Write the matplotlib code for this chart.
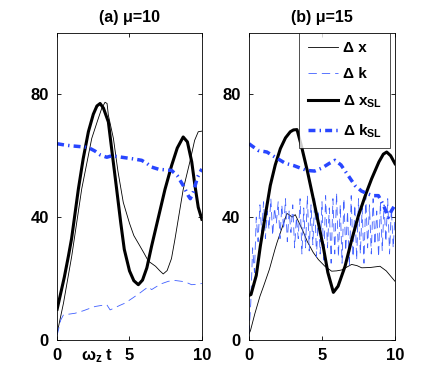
import numpy as np
import matplotlib
matplotlib.use("Agg")
import matplotlib.pyplot as plt

plt.rcParams['font.family'] = ['Liberation Sans', 'DejaVu Sans']
plt.rcParams['font.weight'] = 'bold'
plt.rcParams['mathtext.fontset'] = 'custom'
plt.rcParams['mathtext.rm'] = 'Liberation Sans:bold'
plt.rcParams['mathtext.it'] = 'Liberation Sans:bold'
plt.rcParams['mathtext.bf'] = 'Liberation Sans:bold'

BLUE = '#2846ff'
LIGHTBLUE = '#3f5fff'

# panel (a) mu=10
t_dx_a = [0, 0.44, 1.01, 1.7, 2.39, 2.8, 3.08, 3.31, 3.45, 3.54, 3.89, 4.2, 4.57, 5.0, 5.3, 5.72,
          6.0, 6.3, 6.8, 7.1, 7.33, 7.6, 7.9, 8.14, 8.71, 9.17, 9.5, 9.75, 10]
dx_a = [2.2, 12, 27.3, 49.2, 65.6, 71.5, 75.4, 77.4, 77, 73.2, 65.6, 55, 44.8, 38, 34, 30.6,
        28.3, 25.7, 24, 22.5, 21.5, 22.6, 26.5, 32.8, 49, 58, 65, 67.8, 68]

t_dk_a = [0, 0.05, 0.25, 0.44, 0.8, 1.24, 1.8, 2.2, 2.62, 3.0, 3.43, 3.66, 4.0, 4.3, 4.69, 5.2,
          5.72, 6.0, 6.3, 6.53, 6.8, 7.2, 7.68, 8.1, 8.6, 9.0, 9.29, 9.6, 10]
dk_a = [1.5, 2.5, 6.5, 8.2, 8.4, 8.7, 9.5, 10.2, 10.9, 11.2, 11.5, 9.8, 10.5, 11.2, 12, 13.6,
        15.3, 16.3, 17.3, 16.4, 17.2, 18.3, 19.1, 19.4, 19.1, 18.6, 18, 18.1, 18.4]

t_dxsl_a = [0, 0.5, 0.78, 1.0, 1.47, 1.8, 2.16, 2.5, 2.75, 2.97, 3.2, 3.54, 3.8, 4.11, 4.4, 4.64,
            5.0, 5.3, 5.61, 5.9, 6.2, 6.53, 7.0, 7.45, 7.91, 8.3, 8.71, 9.0, 9.3, 9.5, 9.75, 10]
dxsl_a = [10, 20.5, 27.3, 33, 49.2, 59, 67.8, 73.5, 76.2, 77, 75.5, 71, 61, 49.2, 38, 29.5,
          22.5, 19.3, 18, 19.5, 23.5, 30.6, 40, 49, 56.8, 62.5, 66.1, 64.5, 58, 51, 43.2, 39.3]

t_dksl_a = [0, 0.5, 1.0, 1.5, 1.93, 2.3, 2.62, 3.0, 3.43, 3.8, 4.46, 5.2, 5.84, 6.2, 6.53, 7.0,
            7.45, 7.91, 8.3, 8.71, 9.06, 9.2, 9.4, 9.7, 10]
dksl_a = [63.9, 63.5, 63.2, 63, 62.8, 62.3, 61.5, 60.2, 59.5, 60, 59.5, 59, 58.5, 57.5, 56.3, 55.6,
          55.4, 55.2, 53.5, 50.3, 47, 46, 48, 53, 55.7]

# panel (b) mu=15
t_dx_b = [0, 0.1, 0.4, 0.75, 1.0, 1.4, 1.78, 1.92, 2.3, 2.6, 2.8, 2.95, 3.17, 3.4, 3.74, 4.0,
          4.4, 4.75, 5.2, 5.66, 6.0, 6.35, 7.03, 7.4, 7.72, 8.3, 8.97, 9.4, 10]
dx_b = [2, 3, 8.5, 14.2, 17.5, 23, 29.5, 31.7, 37, 41.2, 40.6, 40, 40.8, 38.5, 35, 32,
        28.5, 26.2, 24, 22.4, 22.5, 22.8, 24.6, 24.2, 23.5, 23.6, 24, 22.5, 19.1]

t_dk_b = np.arange(0, 10.01, 0.125)
dk_b = [2, 12, 30, 22, 40, 32, 44, 35, 45, 33, 42, 36, 46, 34, 43, 38, 45, 33, 44, 36,
        46, 32, 42, 35, 44, 30, 40, 33, 46, 28, 43, 30, 47, 29, 44, 31, 46, 27, 42, 28,
        45, 26, 47, 30, 43, 25, 46, 28, 48, 27, 44, 25, 46, 29, 42, 24, 47, 27, 44, 26,
        46, 28, 43, 25, 47, 30, 44, 28, 46, 31, 42, 27, 45, 29, 44, 32, 46, 28, 43, 30, 40]

t_dxsl_b = [0, 0.14, 0.5, 0.78, 1.1, 1.46, 1.8, 2.15, 2.5, 2.83, 3.05, 3.29, 3.6, 4.0, 4.45, 4.8,
            5.1, 5.4, 5.78, 6.1, 6.58, 7.0, 7.49, 8.0, 8.4, 8.9, 9.2, 9.43, 9.7, 10]
dxsl_b = [14.5, 14.8, 21, 30.6, 40, 50.3, 57, 62.3, 65.8, 67.8, 68.4, 68.5, 63, 55, 45, 37,
          30, 22, 15.5, 17.5, 24, 32, 40.4, 47.5, 52.5, 58, 60.5, 61.2, 60, 57.4]

t_dksl_b = [0, 0.64, 1.23, 1.8, 2.15, 2.5, 3.06, 3.5, 3.97, 4.5, 5.0, 5.5, 5.89, 6.3, 6.8, 7.26,
            7.7, 8.17, 8.5, 8.86, 9.2, 9.54, 9.75, 10]
dksl_b = [63.9, 61.7, 61.2, 59.5, 58.5, 57.5, 56.8, 56, 55.2, 55, 56, 57.5, 58.5, 57, 53.5, 50.3,
          48.5, 47.5, 47, 47, 44, 39.9, 42, 44]

titles = ['(a) \u03bc=10', '(b) \u03bc=15']
xticks = [0, 5, 10]
yticks = [0, 40, 80]

fig = plt.figure(figsize=(4.36, 3.82), dpi=100)
ax1 = fig.add_axes([0.131, 0.110, 0.332, 0.804])
ax2 = fig.add_axes([0.571, 0.110, 0.335, 0.804])

panels = [
    (ax1, t_dx_a, dx_a, t_dk_a, dk_a, t_dxsl_a, dxsl_a, t_dksl_a, dksl_a),
    (ax2, t_dx_b, dx_b, t_dk_b, dk_b, t_dxsl_b, dxsl_b, t_dksl_b, dksl_b),
]

for i, (ax, tx, dx, tk, dk, txs, dxs, tks, dks) in enumerate(panels):
    ax.plot(tx, dx, color='k', lw=0.6, label='\u0394 x')
    ax.plot(tk, dk, color=LIGHTBLUE, lw=0.6, dashes=(10, 6), label='\u0394 k')
    ax.plot(txs, dxs, color='k', lw=2.2, label='\u0394 $x_{SL}$')
    ax.plot(tks, dks, color=BLUE, lw=2.5, dashes=(2.0, 1.2, 0.4, 1.2), label='\u0394 $k_{SL}$')
    ax.set_xlim(0, 10)
    ax.set_ylim(0, 100)
    ax.set_xticks(xticks)
    ax.set_yticks(yticks)
    ax.tick_params(direction='in', top=True, right=True, labelsize=12, length=3, width=0.6, pad=6)
    for lab in ax.get_xticklabels() + ax.get_yticklabels():
        lab.set_fontweight('bold')
    for s in ax.spines.values():
        s.set_linewidth(0.6)
    ax.set_title(titles[i], fontsize=11.5, fontweight='bold', pad=8)

ax1.text(0.28, -0.025, '$\\omega_z$ t', transform=ax1.transAxes, ha='center', va='top',
         fontsize=12, fontweight='bold')

leg = ax2.legend(loc='upper right', bbox_to_anchor=(0.966, 1.0), fontsize=11, frameon=True,
                 fancybox=False, edgecolor='k', handlelength=2.0, borderpad=0.55,
                 labelspacing=0.8, handletextpad=0.3, borderaxespad=0)
leg.get_frame().set_linewidth(0.6)
for txt in leg.get_texts():
    txt.set_fontweight('bold')

fig.savefig('out.png', dpi=100)
